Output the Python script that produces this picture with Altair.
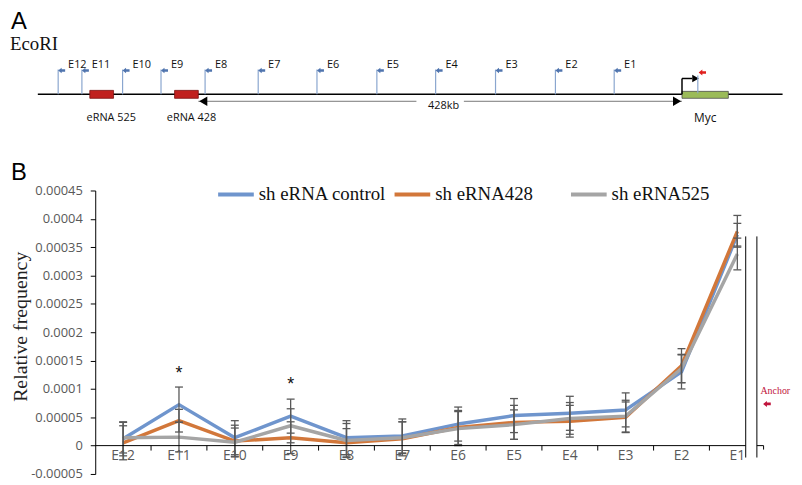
import altair as alt
import pandas as pd

# ---------------- Panel B data ----------------
sites = ["E12", "E11", "E10", "E9", "E8", "E7", "E6", "E5", "E4", "E3", "E2", "E1"]
series_names = ["sh eRNA control", "sh eRNA428", "sh eRNA525"]
series_colors = ["#6F95CD", "#D2773A", "#A5A5A5"]

control = [0.000012, 0.0000723, 0.000014, 0.000052, 0.000014, 0.000017, 0.000038, 0.000053, 0.000057, 0.000063, 0.000130, 0.000372]
sh428 = [0.000005, 0.000044, 0.000008, 0.000014, 0.000005, 0.000012, 0.000032, 0.000041, 0.000043, 0.000050, 0.000141, 0.000378]
sh525 = [0.000014, 0.000015, 0.000006, 0.000035, 0.000009, 0.000014, 0.000030, 0.000037, 0.000048, 0.000052, 0.000136, 0.000338]

err_control = [0.000030, 0.000031, 0.000030, 0.000030, 0.000030, 0.000030, 0.000030, 0.000030, 0.000030, 0.000030, 0.000030, 0.000020]
err_428 = [0.000030, 0.000020, 0.000028, 0.000028, 0.000025, 0.000030, 0.000030, 0.000030, 0.000028, 0.000027, 0.000030, 0.000028]
err_525 = [0.000027, 0.000026, 0.000025, 0.000030, 0.000030, 0.000028, 0.000030, 0.000026, 0.000028, 0.000028, 0.000025, 0.000028]

star_site = ["E11", "E9"]
star_value = [0.000126, 0.000107]

y_ticks = [-0.00005, 0.0, 0.00005, 0.0001, 0.00015, 0.0002, 0.00025, 0.0003, 0.00035, 0.0004, 0.00045]

# ---------------- Panel A (schematic) data : positions in kb relative to Myc TSS ----------------
site_kb = [-552, -531, -495, -461, -422, -375, -323, -270, -218, -165, -112, -60]
erna_names = ["eRNA 525", "eRNA 428"]
erna_start = [-524, -449]
erna_end = [-503, -428]
erna_label_kb = [-505, -434]
myc_start, myc_end = 0, 41
locus_start, locus_end = -570, 89
span_start, span_end = -428, 0
span_label_kb = -211
span_gap = [-235, -193]

# schematic rows (vertical layout of the drawing)
ROW_LABEL, ROW_ARROW, ROW_SITE_TOP, ROW_LOCUS = 63, 69, 68, 93
ROW_BOX_TOP, ROW_BOX_BOT = 89, 97
ROW_SPAN, ROW_SPAN_LABEL, ROW_GENE_LABEL = 100, 105, 117
ROW_TSS_TOP, ROW_RED = 77, 71

# ---------------- long table ----------------
rows = []
for name, vals, errs in zip(series_names, [control, sh428, sh525], [err_control, err_428, err_525]):
    for i, (s, v, e) in enumerate(zip(sites, vals, errs)):
        rows.append(dict(series=name, site=s, idx=i, value=v, lo=v - e, hi=v + e))
df = pd.DataFrame(rows)

xs = alt.Scale(domain=[-0.5, 11.5], nice=False, zero=False)
ys = alt.Scale(domain=[-0.00005, 0.00045], nice=False, zero=False)

PLOT_W, PLOT_H = 676, 286
PAD_TOP = 182
TICK_LEN = 0.00005 * 5 / (PLOT_H / 10.0)

def BX(f):
    return alt.X(f, type="quantitative", scale=xs, axis=None)

def BY(f):
    return alt.Y(f, type="quantitative", scale=ys, axis=None)

lines = alt.Chart(df).mark_line(strokeWidth=3.5, strokeJoin="round").encode(
    x=BX("idx"),
    y=alt.Y("value:Q", scale=ys, title="Relative frequency",
            axis=alt.Axis(orient="left", values=y_ticks, grid=False, domainColor="#000", domainWidth=1,
                          tickColor="#000", tickSize=5, tickWidth=1, labelPadding=8,
                          labelFont="Open Sans", labelFontSize=13, labelColor="#595959",
                          labelExpr="datum.value == 0 ? '0' : replace(format(datum.value, '.5~f'), '\u2212', '-')",
                          titleFont="Liberation Serif", titleFontSize=20, titleFontWeight="normal",
                          titleColor="#222", titleAngle=270, titleX=-75, titleY=137,
                          titleAlign="center", titleBaseline="middle")),
    color=alt.Color("series:N", scale=alt.Scale(domain=series_names, range=series_colors),
                    legend=alt.Legend(title=None, orient="none", legendX=122, legendY=-16,
                                      direction="horizontal", symbolType="stroke", symbolSize=1296,
                                      symbolStrokeWidth=4, labelFont="Liberation Serif",
                                      labelFontSize=19, labelColor="#111", labelOffset=3,
                                      columnPadding=0, gridAlign="all")),
    order=alt.Order("idx:Q"),
)

err_rules = alt.Chart(df).mark_rule(color="#595959", strokeWidth=1.3).encode(
    x=BX("idx"), y=BY("lo"), y2="hi")
cap_path = "M-1,0L1,0"
caps_lo = alt.Chart(df).mark_point(shape=cap_path, size=64, filled=False, color="#595959", strokeWidth=1.3, opacity=1).encode(
    x=BX("idx"), y=BY("lo"))
caps_hi = alt.Chart(df).mark_point(shape=cap_path, size=64, filled=False, color="#595959", strokeWidth=1.3, opacity=1).encode(
    x=BX("idx"), y=BY("hi"))

stars = alt.Chart(pd.DataFrame({"idx": [sites.index(s) for s in star_site], "v": star_value, "t": ["*", "*"]})).mark_text(
    fontSize=18, font="Liberation Sans", color="#111", baseline="middle").encode(x=BX("idx"), y=BY("v"), text="t:N")

xlabels = alt.Chart(pd.DataFrame({"idx": list(range(12)), "site": sites, "v": [0.0] * 12})).mark_text(
    font="Open Sans", fontSize=14, color="#595959", baseline="middle", dy=11).encode(
    x=BX("idx"), y=BY("v"), text="site:N")

xaxis_line = alt.Chart(pd.DataFrame({"a": [-0.5], "b": [11.15], "v": [0.0]})).mark_rule(color="#000", strokeWidth=1).encode(
    x=BX("a"), x2="b", y=BY("v"))
xticks = alt.Chart(pd.DataFrame({"a": [i + 0.5 for i in range(11)], "v": [0.0] * 11, "lo": [-TICK_LEN] * 11})).mark_rule(
    color="#000", strokeWidth=1).encode(x=BX("a"), y=BY("lo"), y2="v")

breaks = alt.Chart(pd.DataFrame({"a": [11.15, 11.35], "lo": [-0.000021, -0.000021], "hi": [0.000369, 0.000369]})).mark_rule(
    color="#000", strokeWidth=1).encode(x=BX("a"), y=BY("lo"), y2="hi")
stub = alt.Chart(pd.DataFrame({"a": [11.35], "b": [11.47], "v": [0.0]})).mark_rule(color="#000", strokeWidth=1).encode(
    x=BX("a"), x2="b", y=BY("v"))
stub_tick = alt.Chart(pd.DataFrame({"a": [11.47], "lo": [-0.000007], "hi": [0.0]})).mark_rule(color="#000", strokeWidth=1).encode(
    x=BX("a"), y=BY("lo"), y2="hi")

arrow_path = "M-1,0L0,-0.8L0,-0.35L1,-0.35L1,0.35L0,0.35L0,0.8Z"
anchor_text = alt.Chart(pd.DataFrame({"a": [11.68], "v": [0.0000963], "t": ["Anchor"]})).mark_text(
    font="Liberation Serif", fontSize=10, color="#C0143C", baseline="middle").encode(x=BX("a"), y=BY("v"), text="t:N")
anchor_arrow = alt.Chart(pd.DataFrame({"a": [11.53], "v": [0.0000735]})).mark_point(
    shape=arrow_path, size=60, filled=True, color="#C0143C", opacity=1).encode(x=BX("a"), y=BY("v"))

b_layers = [lines, err_rules, caps_lo, caps_hi, stars, xaxis_line, xticks, xlabels, breaks, stub, stub_tick,
            anchor_text, anchor_arrow]

# ---------------- Panel A schematic ----------------
PX_PER_KB = 488.0 / 428.0
dxs = alt.Scale(domain=[(96 - 688) / PX_PER_KB, (772 - 688) / PX_PER_KB], nice=False, zero=False)
dys = alt.Scale(domain=[8 + PAD_TOP, 8 + PAD_TOP + PLOT_H], reverse=True, nice=False, zero=False)

def DX(f):
    return alt.X(f, type="quantitative", scale=dxs, axis=None)

def DY(f):
    return alt.Y(f, type="quantitative", scale=dys, axis=None)

site_df = pd.DataFrame({"kb": site_kb, "site": sites, "top": [ROW_SITE_TOP] * 12, "bot": [ROW_LOCUS] * 12,
                        "ay": [ROW_ARROW] * 12, "ly": [ROW_LABEL] * 12})

locus = alt.Chart(pd.DataFrame({"a": [locus_start], "b": [locus_end], "y": [ROW_LOCUS]})).mark_rule(
    color="#000", strokeWidth=1.5).encode(x=DX("a"), x2="b", y=DY("y"))
sticks = alt.Chart(site_df).mark_rule(color="#8AA6CF", strokeWidth=1.2).encode(x=DX("kb"), y=DY("top"), y2="bot")
site_arrows = alt.Chart(site_df).mark_point(shape=arrow_path, size=50, filled=True, color="#4F74AE", opacity=1,
                                            xOffset=3.5).encode(x=DX("kb"), y=DY("ay"))
site_labels = alt.Chart(site_df).mark_text(font="Open Sans", fontSize=11, color="#111", align="left",
                                           baseline="middle", dx=10).encode(x=DX("kb"), y=DY("ly"), text="site:N")

erna_df = pd.DataFrame({"a": erna_start, "b": erna_end, "t": erna_names, "lx": erna_label_kb,
                        "y1": [ROW_BOX_TOP] * 2, "y2": [ROW_BOX_BOT] * 2, "ly": [ROW_GENE_LABEL] * 2})
erna_boxes = alt.Chart(erna_df).mark_rect(color="#C0211F", stroke="#7A1010", strokeWidth=0.8).encode(
    x=DX("a"), x2="b", y=DY("y1"), y2="y2")
erna_labels = alt.Chart(erna_df).mark_text(font="Open Sans", fontSize=11, color="#111", baseline="middle").encode(
    x=DX("lx"), y=DY("ly"), text="t:N")

myc_df = pd.DataFrame({"a": [myc_start], "b": [myc_end], "y1": [ROW_BOX_TOP + 1], "y2": [ROW_BOX_BOT],
                       "lx": [(myc_start + myc_end) / 2], "ly": [ROW_GENE_LABEL], "t": ["Myc"]})
myc_box = alt.Chart(myc_df).mark_rect(color="#9BBB59", stroke="#4D4D4D", strokeWidth=0.8).encode(
    x=DX("a"), x2="b", y=DY("y1"), y2="y2")
myc_label = alt.Chart(myc_df).mark_text(font="Open Sans", fontSize=12, color="#111", baseline="middle").encode(
    x=DX("lx"), y=DY("ly"), text="t:N")

span_df = pd.DataFrame({"a": [span_start, span_gap[1]], "b": [span_gap[0], span_end], "y": [ROW_SPAN] * 2})
span_lines = alt.Chart(span_df).mark_rule(color="#777", strokeWidth=1).encode(x=DX("a"), x2="b", y=DY("y"))
span_left = alt.Chart(pd.DataFrame({"a": [span_start], "y": [ROW_SPAN]})).mark_point(
    shape="triangle-left", size=90, filled=True, color="#000", opacity=1, xOffset=5).encode(x=DX("a"), y=DY("y"))
span_right = alt.Chart(pd.DataFrame({"a": [span_end], "y": [ROW_SPAN]})).mark_point(
    shape="triangle-right", size=90, filled=True, color="#000", opacity=1, xOffset=-5).encode(x=DX("a"), y=DY("y"))
span_label = alt.Chart(pd.DataFrame({"a": [span_label_kb], "y": [ROW_SPAN_LABEL], "t": ["428kb"]})).mark_text(
    font="Open Sans", fontSize=11, color="#111", baseline="middle").encode(x=DX("a"), y=DY("y"), text="t:N")

tss_v = alt.Chart(pd.DataFrame({"a": [0], "y1": [ROW_TSS_TOP], "y2": [ROW_LOCUS]})).mark_rule(
    color="#000", strokeWidth=1.5).encode(x=DX("a"), y=DY("y1"), y2="y2")
tss_h = alt.Chart(pd.DataFrame({"a": [0], "b": [9], "y": [ROW_TSS_TOP]})).mark_rule(
    color="#000", strokeWidth=1.5).encode(x=DX("a"), x2="b", y=DY("y"))
tss_head = alt.Chart(pd.DataFrame({"a": [12], "y": [ROW_TSS_TOP]})).mark_point(
    shape="triangle-right", size=60, filled=True, color="#000", opacity=1).encode(x=DX("a"), y=DY("y"))
red_stick = alt.Chart(pd.DataFrame({"a": [14], "y1": [ROW_RED + 3], "y2": [ROW_LOCUS - 1]})).mark_rule(
    color="#8AA6CF", strokeWidth=1.2).encode(x=DX("a"), y=DY("y1"), y2="y2")
red_arrow = alt.Chart(pd.DataFrame({"a": [18], "y": [ROW_RED]})).mark_point(
    shape=arrow_path, size=55, filled=True, color="#E0201E", opacity=1).encode(x=DX("a"), y=DY("y"))

panel_titles = alt.Chart(pd.DataFrame({"a": [(11 - 688) / PX_PER_KB] * 2, "y": [20, 172], "t": ["A", "B"]})).mark_text(
    font="Liberation Sans", fontSize=24, color="#000", align="left", baseline="middle").encode(
    x=DX("a"), y=DY("y"), text="t:N")
ecori = alt.Chart(pd.DataFrame({"a": [(10 - 688) / PX_PER_KB], "y": [42], "t": ["EcoRI"]})).mark_text(
    font="Liberation Serif", fontSize=19, color="#111", align="left", baseline="middle").encode(
    x=DX("a"), y=DY("y"), text="t:N")

a_layers = [locus, sticks, site_arrows, site_labels, erna_boxes, erna_labels, myc_box, myc_label,
            span_lines, span_left, span_right, span_label, tss_v, tss_h, tss_head, red_stick, red_arrow,
            panel_titles, ecori]

chart = alt.layer(*b_layers, *a_layers).resolve_scale(x="independent", y="independent").properties(
    width=PLOT_W, height=PLOT_H,
    autosize=alt.AutoSizeParams(type="none"),
    padding={"left": 88, "top": PAD_TOP, "right": 29, "bottom": 7},
).configure_view(strokeWidth=0)

chart.save("out.html", embed_options={"renderer": "svg", "actions": False})
